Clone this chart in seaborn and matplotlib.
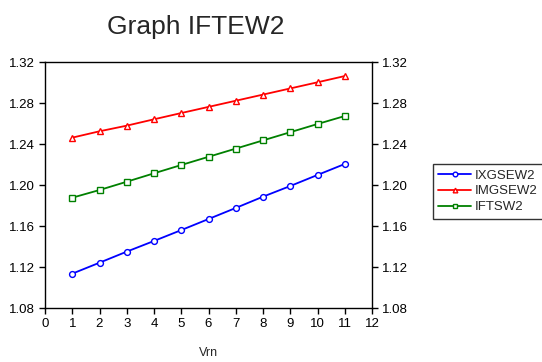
import numpy as np
import pandas as pd
import matplotlib
matplotlib.use('Agg')
import matplotlib.pyplot as plt
import seaborn as sns

# Data
vrn = [1, 2, 3, 4, 5, 6, 7, 8, 9, 10, 11]
ixgsew2 = [1.1135, 1.1242, 1.1350, 1.1454, 1.1560, 1.1668, 1.1776, 1.1886, 1.1990, 1.2098, 1.2205]
imgsew2 = [1.2462, 1.2524, 1.2579, 1.2641, 1.2702, 1.2762, 1.2822, 1.2882, 1.2942, 1.3002, 1.3063]
iftsw2 = [1.1876, 1.1951, 1.2032, 1.2114, 1.2195, 1.2275, 1.2355, 1.2435, 1.2515, 1.2595, 1.2673]

series_names = ['IXGSEW2', 'IMGSEW2', 'IFTSW2']
series_vals = [ixgsew2, imgsew2, iftsw2]
colors = ['#0000ff', '#ff0000', '#008000']
markers = ['o', '^', 's']

sns.set_style('ticks')
plt.rcParams['font.family'] = ['Liberation Sans', 'DejaVu Sans']

fig = plt.figure(figsize=(5.42, 3.62), dpi=100)
ax = fig.add_axes([45/542, 1 - 308/362, 327/542, 246/362])

for name, vals, c, m in zip(series_names, series_vals, colors, markers):
    df = pd.DataFrame({'Vrn': vrn, 'val': vals})
    sns.lineplot(data=df, x='Vrn', y='val', ax=ax, color=c, marker=m,
                 markersize=4.2, markerfacecolor='white', markeredgecolor=c,
                 markeredgewidth=1, linewidth=1.3, label=name)

ax.set_xlim(0, 12)
ax.set_ylim(1.08, 1.32)
ax.set_xticks(range(0, 13))
ax.set_yticks([1.08, 1.12, 1.16, 1.20, 1.24, 1.28, 1.32])
ax.yaxis.set_major_formatter(matplotlib.ticker.FormatStrFormatter('%.2f'))
ax.tick_params(axis='both', direction='out', length=4, width=1, colors='black',
               labelsize=9.5, right=True, labelright=True, top=False)
for sp in ax.spines.values():
    sp.set_visible(True)
    sp.set_color('black')
    sp.set_linewidth(1)

ax.set_xlabel('Vrn', fontsize=9, labelpad=12)
ax.set_ylabel('')
ax.set_title('Graph IFTEW2', fontsize=19, x=0.46, pad=20)

leg = ax.legend(loc='upper left', bbox_to_anchor=(433/542, 1 - 164/362),
                bbox_transform=fig.transFigure, fontsize=9.5, frameon=True,
                fancybox=False, edgecolor='black', handlelength=2.5,
                handletextpad=0.3, borderpad=0.4, labelspacing=0.28,
                markerscale=0.8, borderaxespad=0)
leg.get_frame().set_linewidth(1)

fig.savefig('out.png', dpi=100)
